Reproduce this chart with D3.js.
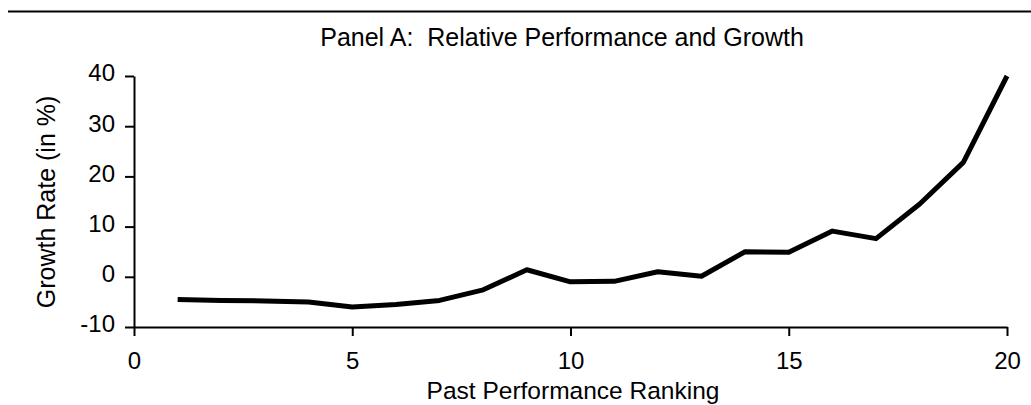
<!DOCTYPE html>
<html>
<head>
<meta charset="utf-8">
<script src="https://cdn.jsdelivr.net/npm/d3@7/dist/d3.min.js"></script>
<style>
  body { margin: 0; background: #fff; }
  svg { display: block; }
  text { font-family: "Liberation Sans", Arial, Helvetica, sans-serif; fill: #000; }
</style>
</head>
<body>
<div id="chart"></div>
<script>
// past performance ranking (x) and growth rate in % (y)
var ranks = [1, 2, 3, 4, 5, 6, 7, 8, 9, 10, 11, 12, 13, 14, 15, 16, 17, 18, 19, 20];
var growth = [-4.5, -4.7, -4.8, -5.0, -6.0, -5.5, -4.7, -2.6, 1.4, -1.0,
              -0.9, 1.0, 0.1, 5.0, 4.9, 9.1, 7.6, 14.5, 22.8, 40.0];
var xTicks = [0, 5, 10, 15, 20];
var yTicks = [-10, 0, 10, 20, 30, 40];

var width = 1031, height = 405;
var svg = d3.select("#chart").append("svg").attr("width", width).attr("height", height);

var x = d3.scaleLinear().domain([0, 20]).range([134, 1007]);
var y = d3.scaleLinear().domain([-10, 40]).range([327, 76]);

// rule across the top
svg.append("line").attr("x1", 8).attr("x2", width).attr("y1", 11.5).attr("y2", 11.5)
    .attr("stroke", "#000").attr("stroke-width", 2);

svg.append("text").attr("x", 562).attr("y", 46).attr("text-anchor", "middle")
    .attr("xml:space", "preserve")
    .style("font-size", "25px").text("Panel A:\u00a0 Relative Performance and Growth");

// plain hyphen for negatives, as in the original
var fmt = function(d) { return String(d); };
var xAxis = d3.axisBottom(x).tickValues(xTicks).tickFormat(fmt).tickSize(9).tickSizeOuter(0).tickPadding(16);
var yAxis = d3.axisLeft(y).tickValues(yTicks).tickFormat(fmt).tickSize(9).tickSizeOuter(0).tickPadding(10);

var gx = svg.append("g").attr("transform", "translate(0," + y(-10) + ")").call(xAxis);
var gy = svg.append("g").attr("transform", "translate(" + x(0) + ",0)").call(yAxis);

[gx, gy].forEach(function(g) {
    g.selectAll("path, line").attr("stroke", "#000").attr("stroke-width", 2);
    g.selectAll("text").style("font-size", "24px").attr("fill", "#000");
});
gy.selectAll("text").attr("dy", "0.2em");

svg.append("text").attr("x", 573).attr("y", 399).attr("text-anchor", "middle")
    .style("font-size", "24.5px").text("Past Performance Ranking");

svg.append("text").attr("transform", "translate(55,202) rotate(-90)").attr("text-anchor", "middle")
    .style("font-size", "25px").text("Growth Rate (in %)");

var line = d3.line()
    .x(function(d, i) { return x(ranks[i]); })
    .y(function(d) { return y(d); });

svg.append("path").datum(growth)
    .attr("d", line)
    .attr("fill", "none")
    .attr("stroke", "#000")
    .attr("stroke-width", 5)
    .attr("stroke-linejoin", "round");
</script>
</body>
</html>
